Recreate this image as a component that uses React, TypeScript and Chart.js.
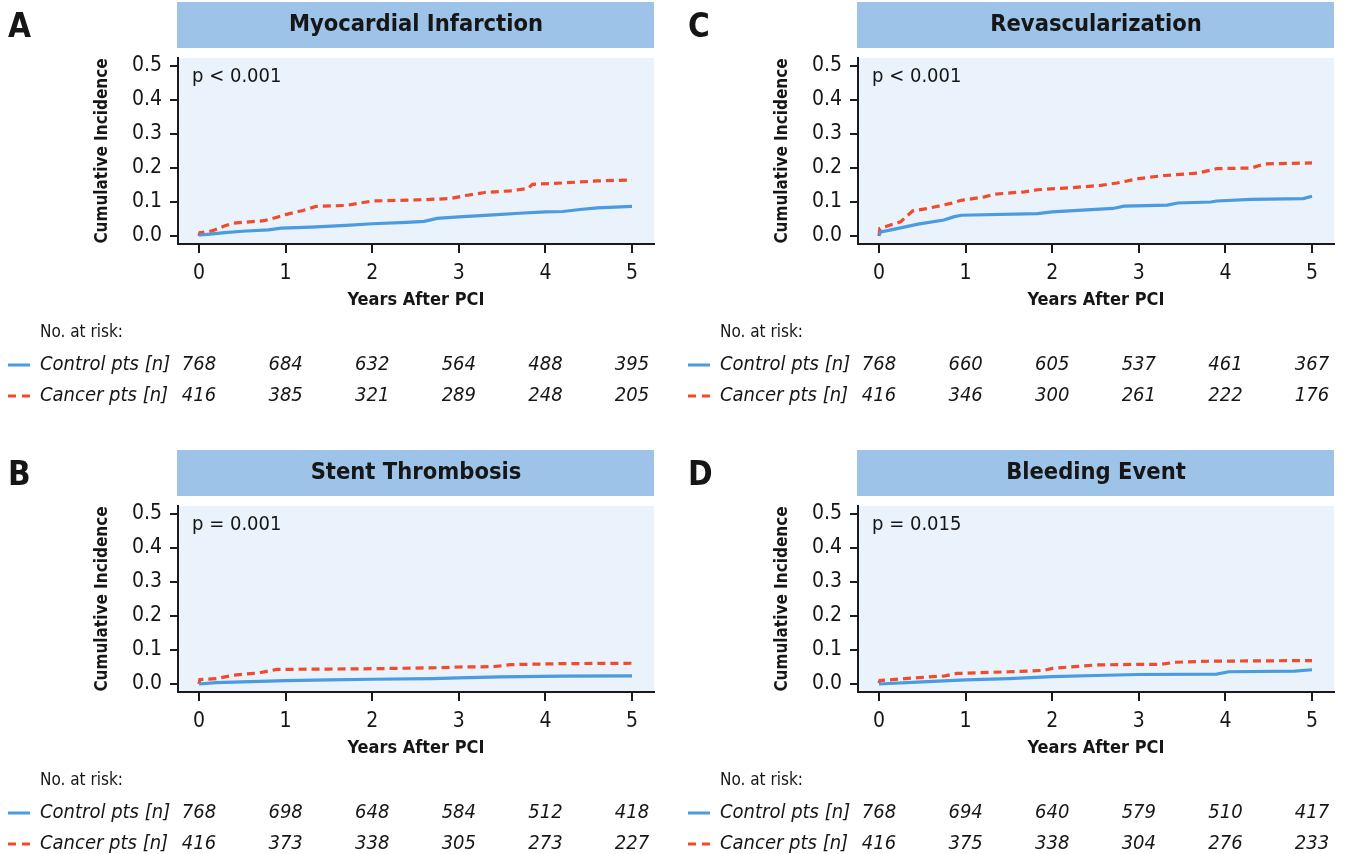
import { useEffect, useRef } from "react";
import { Chart, registerables } from "chart.js";

Chart.register(...registerables);

const FONT = '"Liberation Sans Narrow", "DejaVu Sans Condensed", "Roboto Condensed", "Noto Sans", sans-serif';

const YEAR_TICKS = [0, 1, 2, 3, 4, 5];
const INCIDENCE_TICKS = [0, 0.1, 0.2, 0.3, 0.4, 0.5];
const X_TITLE = "Years After PCI";
const Y_TITLE = "Cumulative Incidence";
const RISK_HEADER = "No. at risk:";
const CONTROL_LABEL = "Control pts [n]";
const CANCER_LABEL = "Cancer pts [n]";

const BLUE = "#4A9BDF";
const RED = "#F04B2D";

// Panel A – Myocardial Infarction
const miControl = [[0, 0.003], [0.1, 0.005], [0.3, 0.01], [0.5, 0.014], [0.8, 0.018], [0.95, 0.023], [1.3, 0.026], [1.7, 0.031], [2.0, 0.036], [2.4, 0.04], [2.6, 0.043], [2.75, 0.052], [3.0, 0.056], [3.4, 0.062], [3.7, 0.067], [4.0, 0.071], [4.2, 0.072], [4.4, 0.078], [4.6, 0.083], [5.0, 0.087]];
const miCancer = [[0, 0.0], [0.01, 0.01], [0.15, 0.015], [0.3, 0.03], [0.4, 0.038], [0.75, 0.045], [0.9, 0.055], [1.0, 0.063], [1.2, 0.075], [1.35, 0.087], [1.7, 0.09], [2.0, 0.103], [2.5, 0.106], [2.9, 0.11], [3.1, 0.12], [3.3, 0.128], [3.6, 0.133], [3.8, 0.14], [3.85, 0.152], [4.2, 0.156], [4.6, 0.162], [5.0, 0.165]];
const miControlRisk = [768, 684, 632, 564, 488, 395];
const miCancerRisk = [416, 385, 321, 289, 248, 205];

// Panel B – Stent Thrombosis
const stControl = [[0, 0.0], [0.2, 0.004], [0.5, 0.006], [1.0, 0.01], [1.5, 0.012], [2.0, 0.014], [2.7, 0.016], [3.0, 0.018], [3.47, 0.021], [4.2, 0.023], [5.0, 0.024]];
const stCancer = [[0, 0.0], [0.01, 0.013], [0.2, 0.016], [0.4, 0.026], [0.7, 0.033], [0.9, 0.043], [1.5, 0.044], [2.0, 0.045], [2.8, 0.048], [3.0, 0.05], [3.4, 0.051], [3.6, 0.057], [4.2, 0.06], [5.0, 0.061]];
const stControlRisk = [768, 698, 648, 584, 512, 418];
const stCancerRisk = [416, 373, 338, 305, 273, 227];

// Panel C – Revascularization
const rvControl = [[0, 0.003], [0.02, 0.012], [0.14, 0.018], [0.45, 0.035], [0.75, 0.047], [0.87, 0.057], [0.95, 0.061], [1.83, 0.066], [2.0, 0.071], [2.7, 0.081], [2.83, 0.088], [3.33, 0.091], [3.45, 0.097], [3.83, 0.1], [3.9, 0.103], [4.3, 0.108], [4.9, 0.11], [5.0, 0.117]];
const rvCancer = [[0, 0.0], [0.01, 0.022], [0.25, 0.042], [0.39, 0.074], [0.56, 0.081], [0.83, 0.096], [0.95, 0.105], [1.22, 0.115], [1.33, 0.123], [1.68, 0.13], [1.83, 0.136], [2.22, 0.142], [2.56, 0.149], [2.75, 0.156], [3.0, 0.169], [3.3, 0.178], [3.68, 0.185], [3.9, 0.198], [4.3, 0.2], [4.45, 0.212], [5.0, 0.215]];
const rvControlRisk = [768, 660, 605, 537, 461, 367];
const rvCancerRisk = [416, 346, 300, 261, 222, 176];

// Panel D – Bleeding Event
const blControl = [[0, 0.0], [0.5, 0.006], [1.0, 0.012], [1.5, 0.016], [2.0, 0.022], [2.5, 0.025], [3.0, 0.028], [3.9, 0.029], [4.04, 0.036], [4.8, 0.038], [5.0, 0.042]];
const blCancer = [[0, 0.002], [0.01, 0.01], [0.3, 0.016], [0.76, 0.024], [0.9, 0.031], [1.5, 0.036], [1.9, 0.04], [2.0, 0.046], [2.3, 0.052], [2.5, 0.056], [3.0, 0.058], [3.25, 0.058], [3.43, 0.064], [3.8, 0.067], [5.0, 0.069]];
const blControlRisk = [768, 694, 640, 579, 510, 417];
const blCancerRisk = [416, 375, 338, 304, 276, 233];

const PANELS = [
  { letter: "A", title: "Myocardial Infarction", p: "p < 0.001", control: miControl, cancer: miCancer, controlRisk: miControlRisk, cancerRisk: miCancerRisk, left: 0, top: 0 },
  { letter: "B", title: "Stent Thrombosis", p: "p = 0.001", control: stControl, cancer: stCancer, controlRisk: stControlRisk, cancerRisk: stCancerRisk, left: 0, top: 448 },
  { letter: "C", title: "Revascularization", p: "p < 0.001", control: rvControl, cancer: rvCancer, controlRisk: rvControlRisk, cancerRisk: rvCancerRisk, left: 680, top: 0 },
  { letter: "D", title: "Bleeding Event", p: "p = 0.015", control: blControl, cancer: blCancer, controlRisk: blControlRisk, cancerRisk: blCancerRisk, left: 680, top: 448 },
];

const CANVAS_W = 666;
const CANVAS_H = 406;

const decorPlugin = {
  id: "panelDecor",
  beforeDraw(chart: any) {
    const { ctx, chartArea } = chart;
    const { left, right, top, bottom } = chartArea;
    ctx.save();
    ctx.fillStyle = "#EAF2FB";
    ctx.fillRect(left, top, right - left, bottom - top);
    ctx.fillStyle = "#9DC3E8";
    ctx.fillRect(left - 1, top - 56, right - left + 1, 46);
    ctx.restore();
  },
  afterDraw(chart: any, _args: any, opts: any) {
    const { ctx, chartArea, scales } = chart;
    const { left, right, top, bottom } = chartArea;
    const xs = scales.x;
    ctx.save();
    ctx.fillStyle = "#161616";
    // panel letter
    ctx.font = `bold 33px ${FONT}`;
    ctx.textAlign = "left";
    ctx.textBaseline = "alphabetic";
    ctx.fillText(opts.letter, 8, 37);
    // title
    ctx.font = `bold 23.5px ${FONT}`;
    ctx.textAlign = "center";
    ctx.textBaseline = "middle";
    ctx.fillText(opts.title, (left + right) / 2, top - 33);
    // p value
    ctx.font = `20px ${FONT}`;
    ctx.textAlign = "left";
    ctx.fillText(opts.p, left + 14, top + 19);
    // axis titles
    ctx.font = `bold 18px ${FONT}`;
    ctx.textAlign = "center";
    ctx.fillText(X_TITLE, (left + right) / 2, bottom + 56);
    ctx.save();
    ctx.translate(103, (top + bottom) / 2);
    ctx.rotate(-Math.PI / 2);
    ctx.font = `bold 17px ${FONT}`;
    ctx.fillText(Y_TITLE, 0, 0);
    ctx.restore();
    // risk table
    const yHead = bottom + 89;
    const yCtrl = bottom + 121;
    const yCanc = bottom + 152;
    ctx.font = `17px ${FONT}`;
    ctx.textAlign = "left";
    ctx.fillText(RISK_HEADER, 40, yHead);
    ctx.font = `italic 20px ${FONT}`;
    ctx.fillText(CONTROL_LABEL, 40, yCtrl);
    ctx.fillText(CANCER_LABEL, 40, yCanc);
    ctx.textAlign = "center";
    YEAR_TICKS.forEach((t, i) => {
      const px = xs.getPixelForValue(t);
      ctx.fillText(String(opts.controlRisk[i]), px, yCtrl);
      ctx.fillText(String(opts.cancerRisk[i]), px, yCanc);
    });
    // legend swatches
    ctx.lineWidth = 3;
    ctx.strokeStyle = BLUE;
    ctx.beginPath();
    ctx.moveTo(8, yCtrl);
    ctx.lineTo(30, yCtrl);
    ctx.stroke();
    ctx.strokeStyle = RED;
    ctx.setLineDash([8, 6]);
    ctx.beginPath();
    ctx.moveTo(8, yCanc);
    ctx.lineTo(30, yCanc);
    ctx.stroke();
    ctx.restore();
  },
};

function makeConfig(panel: any) {
  const toPts = (arr: number[][]) => arr.map(([x, y]) => ({ x, y }));
  return {
    type: "line" as const,
    data: {
      datasets: [
        { data: toPts(panel.control), borderColor: BLUE, borderWidth: 3.2, pointRadius: 0, fill: false, tension: 0 },
        { data: toPts(panel.cancer), borderColor: RED, borderWidth: 3.2, borderDash: [8, 5], pointRadius: 0, fill: false, tension: 0 },
      ],
    },
    options: {
      animation: false,
      responsive: false,
      events: [],
      layout: { padding: { left: 0, top: 58, right: 12, bottom: 0 } },
      plugins: {
        legend: { display: false },
        tooltip: { enabled: false },
        panelDecor: {
          letter: panel.letter,
          title: panel.title,
          p: panel.p,
          controlRisk: panel.controlRisk,
          cancerRisk: panel.cancerRisk,
        },
      },
      scales: {
        x: {
          type: "linear",
          min: -0.2425,
          max: 5.254,
          afterBuildTicks: (s: any) => { s.ticks = YEAR_TICKS.map((v) => ({ value: v })); },
          afterFit: (s: any) => { s.height = CANVAS_H - 244; },
          ticks: { autoSkip: false, maxRotation: 0, padding: 8, color: "#161616", font: { family: FONT, size: 21 }, callback: (v: any) => String(v) },
          grid: { drawOnChartArea: false, drawTicks: true, tickLength: 9, color: "#1a1a1a", lineWidth: 2 },
          border: { display: true, color: "#1a1a1a", width: 2 },
        },
        y: {
          type: "linear",
          min: -0.0235,
          max: 0.5235,
          afterBuildTicks: (s: any) => { s.ticks = INCIDENCE_TICKS.map((v) => ({ value: v })); },
          afterFit: (s: any) => { s.width = 178; },
          ticks: { autoSkip: false, padding: 8, color: "#161616", font: { family: FONT, size: 21 }, callback: (v: any) => Number(v).toFixed(1) },
          grid: { drawOnChartArea: false, drawTicks: true, tickLength: 8, color: "#1a1a1a", lineWidth: 2 },
          border: { display: true, color: "#1a1a1a", width: 2 },
        },
      },
    },
    plugins: [decorPlugin],
  };
}

export default function App() {
  const refs = useRef<(HTMLCanvasElement | null)[]>([]);

  useEffect(() => {
    const charts = PANELS.map((panel, i) => new Chart(refs.current[i] as HTMLCanvasElement, makeConfig(panel) as any));
    return () => charts.forEach((c) => c.destroy());
  }, []);

  return (
    <div style={{ position: "absolute", left: 0, top: 0, width: 1346, height: 854, background: "#ffffff", overflow: "hidden" }}>
      {PANELS.map((panel, i) => (
        <canvas
          key={panel.letter}
          ref={(el) => { refs.current[i] = el; }}
          width={CANVAS_W}
          height={CANVAS_H}
          style={{ position: "absolute", left: panel.left, top: panel.top, width: CANVAS_W, height: CANVAS_H }}
        />
      ))}
    </div>
  );
}
